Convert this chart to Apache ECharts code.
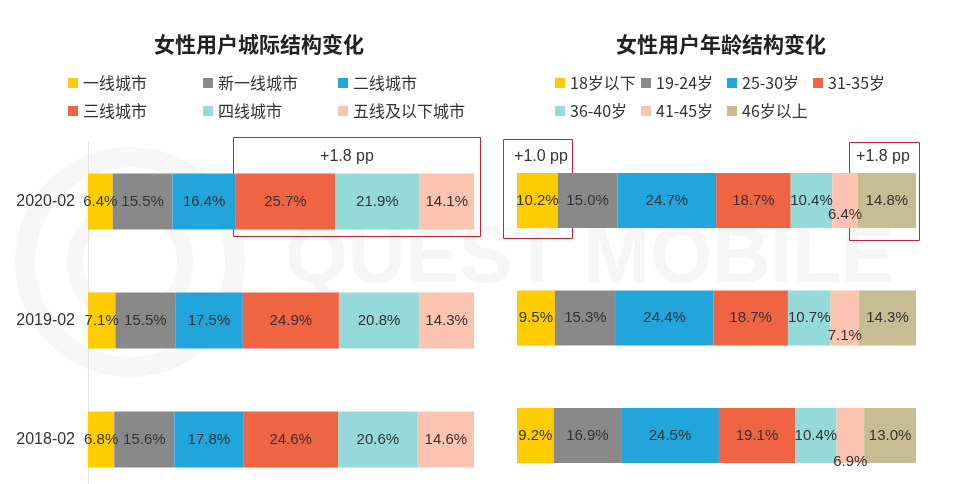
<!DOCTYPE html>
<html>
<head>
<meta charset="utf-8">
<script src="https://cdn.jsdelivr.net/npm/echarts@6/dist/echarts.min.js"></script>
<style>html,body{margin:0;padding:0;background:#fff}#c{width:960px;height:484px}</style>
</head>
<body>
<div id="c"></div>
<script>
// ---- data ----
const years = ['2020-02', '2019-02', '2018-02'];
const cityNames = ['一线城市', '新一线城市', '二线城市', '三线城市', '四线城市', '五线及以下城市'];
const cityTier1 = [6.4, 7.1, 6.8];
const cityNewTier1 = [15.5, 15.5, 15.6];
const cityTier2 = [16.4, 17.5, 17.8];
const cityTier3 = [25.7, 24.9, 24.6];
const cityTier4 = [21.9, 20.8, 20.6];
const cityTier5 = [14.1, 14.3, 14.6];
const ageNames = ['18岁以下', '19-24岁', '25-30岁', '31-35岁', '36-40岁', '41-45岁', '46岁以上'];
const ageU18 = [10.2, 9.5, 9.2];
const age19 = [15.0, 15.3, 16.9];
const age25 = [24.7, 24.4, 24.5];
const age31 = [18.7, 18.7, 19.1];
const age36 = [10.4, 10.7, 10.4];
const age41 = [6.4, 7.1, 6.9];
const age46 = [14.8, 14.3, 13.0];
const notes = ['+1.8 pp', '+1.0 pp', '+1.8 pp'];

// ---- styling ----
const cityColors = ['#FFCC00', '#898989', '#22A5DA', '#EF6442', '#95D9D9', '#FCC3B1'];
const ageColors = ['#FFCC00', '#898989', '#22A5DA', '#EF6442', '#95D9D9', '#FCC3B1', '#C6BD93'];
const latin = "'Liberation Sans', Arial, 'Noto Sans CJK SC', sans-serif";
const cjk = "'Noto Sans CJK SC', 'Liberation Sans', sans-serif";
const age41Dy = [14, 18, 26];

const cityData = [cityTier1, cityNewTier1, cityTier2, cityTier3, cityTier4, cityTier5];
const ageData = [ageU18, age19, age25, age31, age36, age41, age46];

function labelCfg() {
  return {
    show: true, position: 'inside', color: '#333', fontSize: 15, fontFamily: latin,
    formatter: p => p.value.toFixed(1) + '%'
  };
}

const series = [];
cityData.forEach((vals, i) => {
  series.push({
    name: cityNames[i], type: 'bar', stack: 'city', xAxisIndex: 0, yAxisIndex: 0,
    barWidth: 56, data: vals, itemStyle: { color: cityColors[i] }, label: labelCfg()
  });
});
ageData.forEach((vals, i) => {
  const d = (i === 5) ? vals.map((v, k) => ({ value: v, label: { offset: [0, age41Dy[k]] } })) : vals;
  series.push({
    name: ageNames[i], type: 'bar', stack: 'age', xAxisIndex: 1, yAxisIndex: 1,
    barWidth: 55, data: d, itemStyle: { color: ageColors[i] }, label: labelCfg()
  });
});

function legend(names, left, top, w, gap, tgap) {
  return {
    data: names, left: left, top: top, orient: 'horizontal', padding: 0,
    icon: 'rect', itemWidth: 10, itemHeight: 10, itemGap: gap, itemTextGap: tgap,
    selectedMode: false,
    formatter: '{a|{name}}',
    textStyle: { fontSize: 16, fontFamily: cjk, color: '#333',
      rich: { a: { width: w, fontSize: 16, fontFamily: cjk, color: '#333', lineHeight: 18 } } }
  };
}

const chart = echarts.init(document.getElementById('c'), null, { renderer: 'canvas' });
chart.setOption({
  animation: false,
  backgroundColor: '#fff',
  legend: [
    legend(cityNames.slice(0, 3), 68, 75, 120, 0, 4),
    legend(cityNames.slice(3), 68, 103, 120, 0, 4),
    legend(ageNames.slice(0, 4), 555, 75, 67, 4, 5),
    legend(ageNames.slice(4), 555, 103, 67, 4, 5)
  ],
  grid: [
    { left: 88, width: 386, top: 142, height: 357, outerBoundsMode: 'none', containLabel: false },
    { left: 517, width: 399, top: 141.75, height: 352.5, outerBoundsMode: 'none', containLabel: false }
  ],
  xAxis: [
    { type: 'value', gridIndex: 0, min: 0, max: 100, show: false },
    { type: 'value', gridIndex: 1, min: 0, max: 100, show: false }
  ],
  yAxis: [
    { type: 'category', gridIndex: 0, data: years, inverse: true,
      axisLine: { show: true, lineStyle: { color: '#e3e3e3' } }, axisTick: { show: false },
      axisLabel: { color: '#333', fontSize: 16, fontFamily: latin, margin: 13 } },
    { type: 'category', gridIndex: 1, data: years, inverse: true, show: false }
  ],
  series: series,
  graphic: [
    { type: 'circle', shape: { cx: 130, cy: 262, r: 105 }, silent: true, z: -10,
      style: { fill: 'none', stroke: '#f7f7f7', lineWidth: 20 } },
    { type: 'circle', shape: { cx: 130, cy: 262, r: 55 }, silent: true, z: -10,
      style: { fill: 'none', stroke: '#f7f7f7', lineWidth: 16 } },
    { type: 'text', x: 590, y: 260, silent: true, z: -10,
      style: { text: 'QUEST MOBILE', fill: '#f6f6f6', font: "bold 80px 'Liberation Sans', Arial, sans-serif",
        textAlign: 'center', textVerticalAlign: 'middle' } },
    { type: 'text', x: 259, y: 44, style: { text: '女性用户城际结构变化', fill: '#222',
        font: "bold 21px 'Noto Sans CJK SC', sans-serif", textAlign: 'center', textVerticalAlign: 'middle' } },
    { type: 'text', x: 721, y: 44, style: { text: '女性用户年龄结构变化', fill: '#222',
        font: "bold 21px 'Noto Sans CJK SC', sans-serif", textAlign: 'center', textVerticalAlign: 'middle' } },
    { type: 'rect', shape: { x: 233.5, y: 137.5, width: 247, height: 99 },
      style: { fill: 'none', stroke: '#C0262D', lineWidth: 1 } },
    { type: 'rect', shape: { x: 503.5, y: 139.5, width: 69, height: 99 },
      style: { fill: 'none', stroke: '#C0262D', lineWidth: 1 } },
    { type: 'rect', shape: { x: 849.5, y: 142.5, width: 70, height: 98 },
      style: { fill: 'none', stroke: '#C0262D', lineWidth: 1 } },
    { type: 'text', x: 347, y: 157, style: { text: notes[0], fill: '#333',
        font: "16px 'Liberation Sans', Arial, sans-serif", textAlign: 'center', textVerticalAlign: 'middle' } },
    { type: 'text', x: 541, y: 157, style: { text: notes[1], fill: '#333',
        font: "16px 'Liberation Sans', Arial, sans-serif", textAlign: 'center', textVerticalAlign: 'middle' } },
    { type: 'text', x: 883, y: 157, style: { text: notes[2], fill: '#333',
        font: "16px 'Liberation Sans', Arial, sans-serif", textAlign: 'center', textVerticalAlign: 'middle' } }
  ]
});
</script>
</body>
</html>
